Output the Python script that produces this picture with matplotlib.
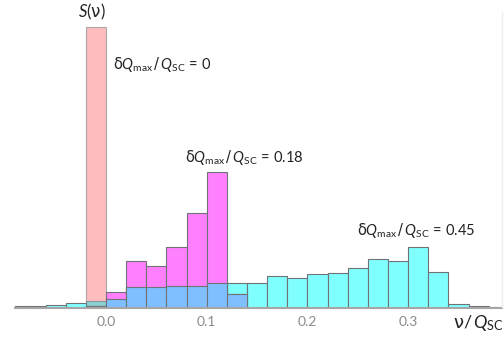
import numpy as np
import matplotlib
matplotlib.use("Agg")
import matplotlib.pyplot as plt
from matplotlib.lines import Line2D

# ---- data ----
bin_left = [-0.10, -0.08, -0.06, -0.04, -0.02, 0.00, 0.02, 0.04, 0.06, 0.08, 0.10,
            0.12, 0.14, 0.16, 0.18, 0.20, 0.22, 0.24, 0.26, 0.28, 0.30, 0.32,
            0.34, 0.36, 0.38]
bin_width = 0.02
s_045 = [0.15, 0.2, 0.3, 0.5, 0.7, 0.84, 2.07, 2.07, 2.2, 2.2, 2.47,
         2.47, 2.44, 3.17, 2.97, 3.37, 3.5, 3.94, 4.84, 4.67, 6.1, 3.57,
         0.4, 0.2, 0.1]
s_018 = [0, 0, 0, 0, 0.2, 1.6, 4.64, 4.17, 6.04, 9.5, 13.54,
         1.4, 0, 0, 0, 0, 0, 0, 0, 0, 0, 0, 0, 0, 0]
s_0_left = -0.02
s_0 = 28.07
tick_vals = [0.0, 0.1, 0.2, 0.3]
tick_labels = ["0.0", "0.1", "0.2", "0.3"]

plt.rcParams['mathtext.fontset'] = 'custom'
plt.rcParams['mathtext.rm'] = 'DejaVu Sans'
plt.rcParams['mathtext.it'] = 'Lato:italic'
plt.rcParams['font.family'] = ['Lato', 'DejaVu Sans']

fig = plt.figure(figsize=(5.04, 3.41), dpi=100)
ax = fig.add_axes([15/504, 33.3/341, 487/504, 300/341])
ax.set_xlim(-0.0904, 0.3932)
ax.set_ylim(0, 30)

left = np.array(bin_left)
c = np.array(s_045)
m = np.array(s_018)
both = np.minimum(c, m)
ec = '#6f7378'
lw = 0.8

# pink delta-like bar
ax.bar(s_0_left, s_0, width=bin_width, align='edge', color='#ffbcbf',
       edgecolor='#a8a8a8', linewidth=lw, zorder=1)

pink_bin = np.isclose(left, s_0_left)
ax.bar(left[~pink_bin], c[~pink_bin], width=bin_width, align='edge', color='#80ffff',
       edgecolor=ec, linewidth=lw, zorder=2)
ax.bar(left[pink_bin], c[pink_bin], width=bin_width, align='edge', color='#40e0e0',
       alpha=0.6, edgecolor=ec, linewidth=lw, zorder=2)
ax.bar(left, m, width=bin_width, align='edge', color='#ff80ff',
       edgecolor=ec, linewidth=lw, zorder=3)
ax.bar(left, both, width=bin_width, align='edge', color='#80bfff',
       edgecolor=ec, linewidth=lw, zorder=4)

for s in ['top', 'right', 'left']:
    ax.spines[s].set_visible(False)
ax.spines['bottom'].set_color('#a6a6a6')
ax.spines['bottom'].set_linewidth(1.5)
ax.spines['bottom'].set_zorder(5)
ax.set_yticks([])
ax.set_xticks(tick_vals)
ax.set_xticklabels(tick_labels)
ax.tick_params(axis='x', length=0, pad=6, labelsize=10, labelcolor='#8c8c8c')

fs = 10.5
lab = r'$\mathrm{\delta}Q_{\mathregular{max}}\,/\,Q_{\mathregular{SC}}\mathregular{\,=\,%s}$'
ax.text(0.007, 24.3, lab % '0', fontsize=fs, va='center', ha='left', color='#222222')
ax.text(0.0785, 15.0, lab % '0.18', fontsize=fs, va='center', ha='left', color='#222222')
ax.text(0.249, 7.7, lab % '0.45', fontsize=fs, va='center', ha='left', color='#222222')
ax.text(-0.0139, 29.6, r'$S\mathregular{(}\mathrm{\nu}\mathregular{)}$', fontsize=12,
        va='center', ha='center', color='#222222', clip_on=False)
ax.text(0.3446, -1.55, r'$\mathrm{\nu}\mathregular{/}\,Q_{\mathregular{SC}}$', fontsize=13,
        va='center', ha='left', color='#222222', clip_on=False)

fig.add_artist(Line2D([501.5/504, 501.5/504], [1 - 12/341, 1 - 307/341],
                      color='#eeeeee', lw=1))

fig.savefig('out.png', dpi=100)
